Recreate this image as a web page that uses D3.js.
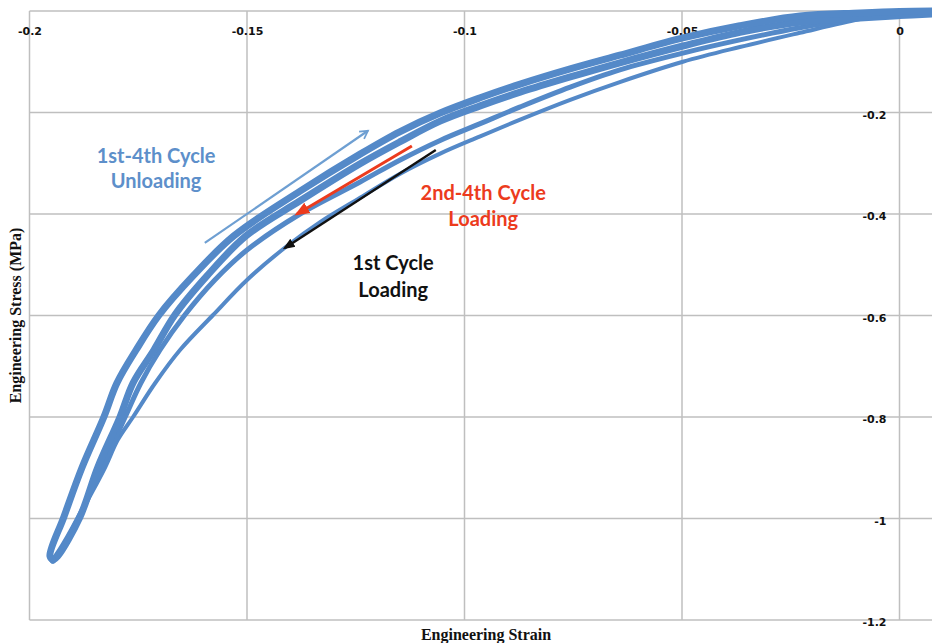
<!DOCTYPE html>
<html>
<head>
<meta charset="utf-8">
<script src="https://cdn.jsdelivr.net/npm/d3@7"></script>
<style>
  body { margin: 0; background: #fff; }
  svg { display: block; }
</style>
</head>
<body>
<svg width="932" height="643"></svg>
<script>
// strain / stress pairs, [strain, stress MPa]
var unloadingUpper = [
  [-0.1946, -1.082], [-0.1953, -1.074], [-0.1921, -0.997], [-0.1879, -0.899], [-0.1829, -0.800],
  [-0.1799, -0.733], [-0.1755, -0.668], [-0.1702, -0.599], [-0.1624, -0.522], [-0.1530, -0.443],
  [-0.1378, -0.355], [-0.1240, -0.282], [-0.1149, -0.238], [-0.1056, -0.201], [-0.0964, -0.171],
  [-0.0872, -0.144], [-0.0757, -0.114], [-0.0643, -0.087], [-0.0498, -0.053], [-0.0367, -0.029],
  [-0.0229, -0.010], [-0.0091, -0.004], [0, -0.001], [0.0075, 0]
];
var unloadingLower = [
  [-0.1946, -1.082], [-0.1935, -1.074], [-0.1884, -0.997], [-0.1843, -0.899], [-0.1792, -0.800],
  [-0.1762, -0.733], [-0.1714, -0.668], [-0.1666, -0.599], [-0.1592, -0.522], [-0.1502, -0.443],
  [-0.1378, -0.374], [-0.1240, -0.301], [-0.1149, -0.258], [-0.1056, -0.217], [-0.0964, -0.187],
  [-0.0872, -0.160], [-0.0757, -0.130], [-0.0643, -0.102], [-0.0498, -0.069], [-0.0367, -0.042],
  [-0.0229, -0.022], [-0.0091, -0.014], [0, -0.009], [0.0075, -0.006]
];
var loading2to4 = [
  [0, -0.002], [-0.0091, -0.014], [-0.0229, -0.033], [-0.0367, -0.057], [-0.0498, -0.083],
  [-0.0643, -0.116], [-0.0757, -0.150], [-0.0872, -0.189], [-0.0964, -0.222], [-0.1056, -0.255],
  [-0.1149, -0.294], [-0.1240, -0.337], [-0.1378, -0.400], [-0.1500, -0.471], [-0.1574, -0.530],
  [-0.1643, -0.599], [-0.1700, -0.668], [-0.1744, -0.733], [-0.1780, -0.800], [-0.1833, -0.899],
  [-0.1879, -0.983], [-0.1923, -1.052], [-0.1946, -1.082]
];
var loading1 = [
  [0, -0.002], [-0.0091, -0.016], [-0.0229, -0.043], [-0.0367, -0.071], [-0.0498, -0.100],
  [-0.0643, -0.140], [-0.0757, -0.175], [-0.0872, -0.214], [-0.0964, -0.247], [-0.1056, -0.281],
  [-0.1149, -0.321], [-0.1240, -0.368], [-0.1332, -0.416], [-0.1408, -0.463], [-0.1500, -0.530],
  [-0.1578, -0.599], [-0.1654, -0.668], [-0.1711, -0.733], [-0.1762, -0.800], [-0.1797, -0.845],
  [-0.1826, -0.899], [-0.1866, -0.964], [-0.1903, -1.023], [-0.1935, -1.072], [-0.1946, -1.082]
];

var xTicks = [-0.2, -0.15, -0.1, -0.05, 0];
var xTickLabels = ["-0.2", "-0.15", "-0.1", "-0.05", "0"];
var yTicks = [0, -0.2, -0.4, -0.6, -0.8, -1, -1.2];
var yTickLabels = ["0", "-0.2", "-0.4", "-0.6", "-0.8", "-1", "-1.2"];

// annotation arrows: [from, to] in data units
var unloadArrow = [[-0.1597, -0.457], [-0.1222, -0.236]];
var reloadArrow = [[-0.1121, -0.266], [-0.1385, -0.400]];
var firstArrow = [[-0.1066, -0.274], [-0.1413, -0.467]];
var notes = [
  { lines: ["1st-4th Cycle", "Unloading"], x: -0.1709, y: [-0.2995, -0.3488], color: "#5d8fca" },
  { lines: ["2nd-4th Cycle", "Loading"], x: -0.0957, y: [-0.3724, -0.4236], color: "#ec3b1d" },
  { lines: ["1st Cycle", "Loading"], x: -0.1164, y: [-0.5103, -0.5635], color: "#111" }
];

var svg = d3.select("svg");
var x = d3.scaleLinear().domain([-0.2, 0]).range([29.5, 899.5]);
var y = d3.scaleLinear().domain([0, -1.2]).range([11, 620]);
var right = 932;

var grid = svg.append("g");
grid.selectAll(".vg").data(xTicks).enter().append("line")
  .attr("x1", d => x(d)).attr("x2", d => x(d))
  .attr("y1", y(0)).attr("y2", y(-1.2))
  .attr("stroke", "#bfbfbf").attr("stroke-width", 1.5);
grid.selectAll(".hg").data(yTicks).enter().append("line")
  .attr("x1", x(-0.2)).attr("x2", right)
  .attr("y1", d => y(d)).attr("y2", d => y(d))
  .attr("stroke", "#bfbfbf").attr("stroke-width", 1.5);

// tick labels via axis generators
var xAxis = d3.axisTop(x).tickValues(xTicks).tickSize(0)
  .tickFormat((d, i) => xTickLabels[i]);
var gx = svg.append("g").attr("transform", "translate(0,35)").call(xAxis);
gx.select(".domain").remove();
gx.selectAll("text").attr("y", 0).attr("dy", 0)
  .style("font-family", "DejaVu Sans, Verdana, sans-serif")
  .style("font-size", "11px").style("font-weight", "bold").attr("fill", "#111");

var yAxis = d3.axisLeft(y).tickValues(yTicks).tickSize(0)
  .tickFormat((d, i) => yTickLabels[i]);
var gy = svg.append("g").attr("transform", "translate(" + (x(0) - 13) + ",0)").call(yAxis);
gy.select(".domain").remove();
gy.selectAll("text").attr("x", 0).attr("dy", "0.5em")
  .style("font-family", "DejaVu Sans, Verdana, sans-serif")
  .style("font-size", "11px").style("font-weight", "bold").attr("fill", "#111");

svg.append("defs").append("clipPath").attr("id", "plot")
  .append("rect").attr("x", x(-0.2)).attr("y", 0)
  .attr("width", right - x(-0.2)).attr("height", y(-1.2));

var line = d3.line().x(d => x(d[0])).y(d => y(d[1])).curve(d3.curveCatmullRom);
var curves = svg.append("g").attr("clip-path", "url(#plot)");
var blue = "#5489c8";
[[loading1, 4], [loading2to4, 5], [unloadingLower, 7], [unloadingUpper, 7]].forEach(function (s) {
  curves.append("path").datum(s[0]).attr("d", line)
    .attr("fill", "none").attr("stroke", blue)
    .attr("stroke-width", s[1]).attr("stroke-linejoin", "round").attr("stroke-linecap", "round");
});

// arrows
var defs = svg.select("defs");
function marker(id, color, open) {
  var m = defs.append("marker").attr("id", id)
    .attr("viewBox", "0 0 10 10").attr("refX", 8).attr("refY", 5)
    .attr("markerWidth", 5).attr("markerHeight", 5)
    .attr("markerUnits", "strokeWidth").attr("orient", "auto");
  if (open) {
    m.append("path").attr("d", "M1,1 L8,5 L1,9").attr("fill", "none")
      .attr("stroke", color).attr("stroke-width", 1.6);
  } else {
    m.append("path").attr("d", "M0,1 L10,5 L0,9 Z").attr("fill", color);
  }
}
marker("mBlue", "#6e9fd2", true);
marker("mRed", "#ec3b1d", false);
marker("mBlack", "#111", false);

function arrow(a, color, w, id) {
  svg.append("line")
    .attr("x1", x(a[0][0])).attr("y1", y(a[0][1]))
    .attr("x2", x(a[1][0])).attr("y2", y(a[1][1]))
    .attr("stroke", color).attr("stroke-width", w)
    .attr("marker-end", "url(#" + id + ")");
}
arrow(unloadArrow, "#6e9fd2", 2.2, "mBlue");
arrow(reloadArrow, "#ec3b1d", 3, "mRed");
arrow(firstArrow, "#111", 2.4, "mBlack");

notes.forEach(function (n) {
  n.lines.forEach(function (t, i) {
    svg.append("text").attr("x", x(n.x)).attr("y", y(n.y[i]))
      .attr("text-anchor", "middle").attr("fill", n.color)
      .style("font-family", "Lato, 'Open Sans', sans-serif")
      .style("font-weight", "bold").style("font-size", "20px")
      .text(t);
  });
});

// axis titles
svg.append("text").attr("x", 486).attr("y", 640).attr("text-anchor", "middle")
  .style("font-family", "'Liberation Serif', 'Times New Roman', serif")
  .style("font-weight", "bold").style("font-size", "16px").attr("fill", "#111")
  .text("Engineering Strain");
svg.append("text").attr("transform", "translate(21," + y(-0.6) + ") rotate(-90)")
  .attr("text-anchor", "middle")
  .style("font-family", "'Liberation Serif', 'Times New Roman', serif")
  .style("font-weight", "bold").style("font-size", "16px").attr("fill", "#111")
  .text("Engineering Stress (MPa)");
</script>
</body>
</html>
